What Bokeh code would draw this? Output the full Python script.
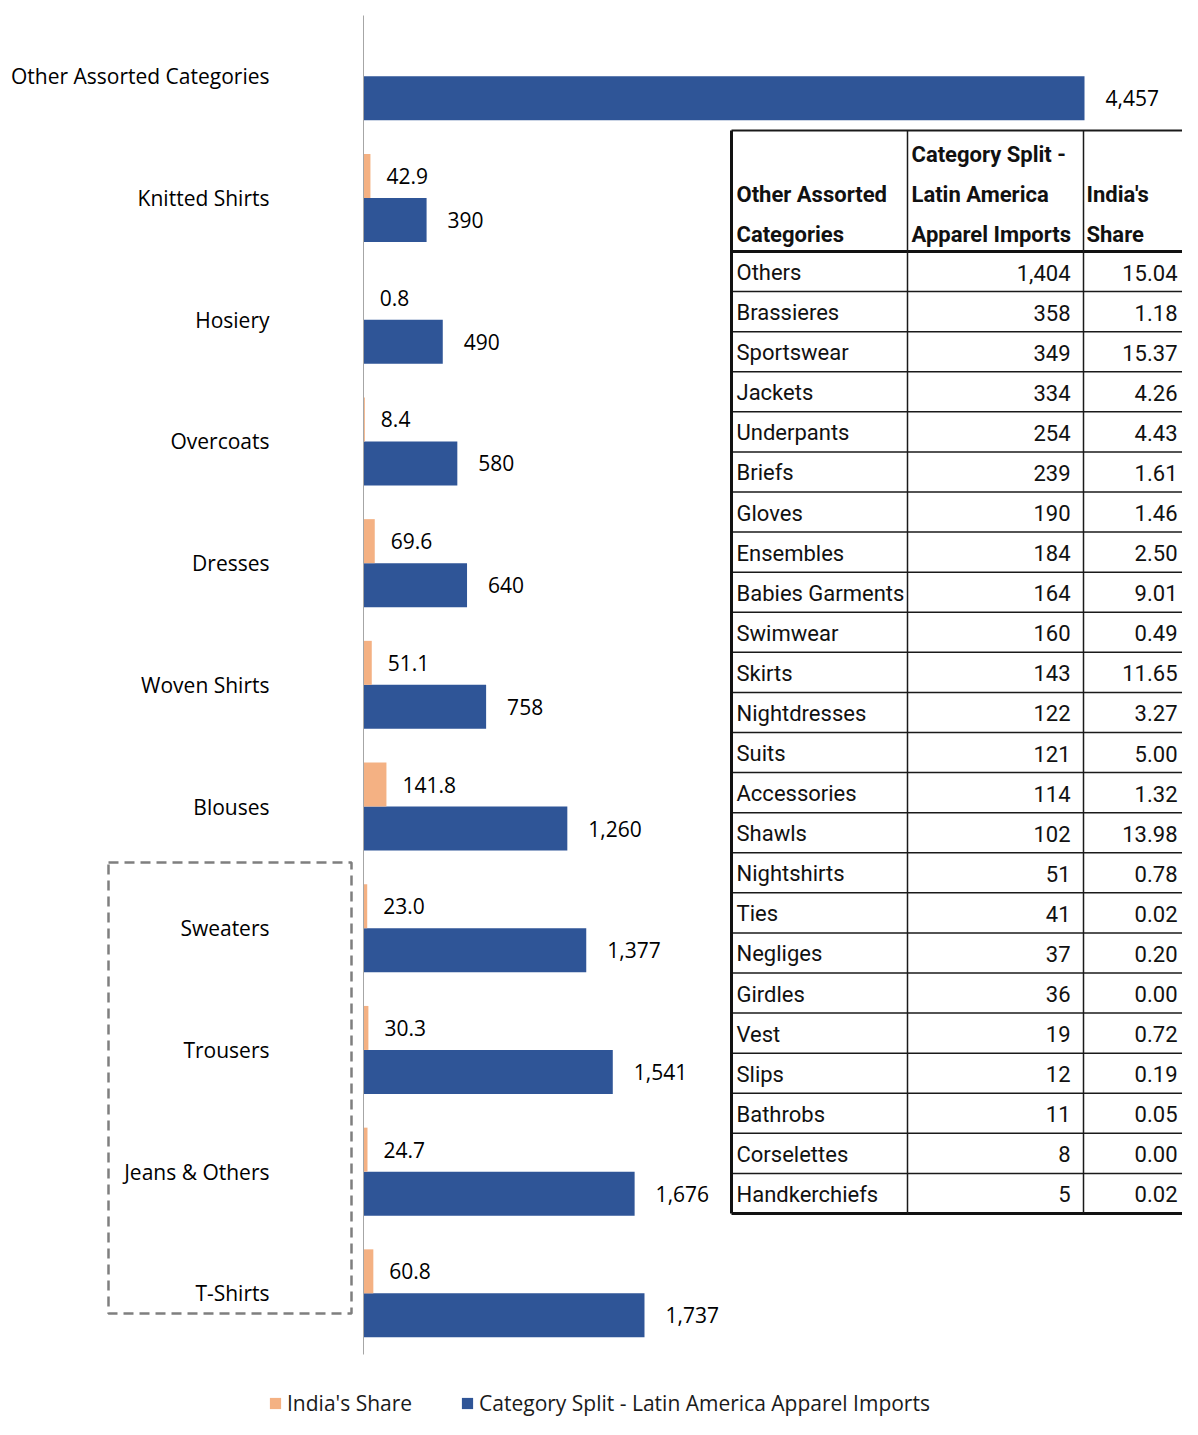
from bokeh.plotting import figure
from bokeh.models import ColumnDataSource, Range1d, Legend, LegendItem
from bokeh.transform import dodge
from bokeh.core.properties import value
from bokeh.embed import file_html
from bokeh.resources import INLINE

# ---------------- data ----------------
categories = ["Other Assorted Categories", "Knitted Shirts", "Hosiery", "Overcoats",
              "Dresses", "Woven Shirts", "Blouses", "Sweaters", "Trousers",
              "Jeans & Others", "T-Shirts"]
imports = [4457, 390, 490, 580, 640, 758, 1260, 1377, 1541, 1676, 1737]
india_share = [None, 42.9, 0.8, 8.4, 69.6, 51.1, 141.8, 23.0, 30.3, 24.7, 60.8]

table_headers = ["Other Assorted\nCategories",
                 "Category Split -\nLatin America\nApparel Imports",
                 "India's\nShare"]
table_cats = ["Others", "Brassieres", "Sportswear", "Jackets", "Underpants", "Briefs",
              "Gloves", "Ensembles", "Babies Garments", "Swimwear", "Skirts",
              "Nightdresses", "Suits", "Accessories", "Shawls", "Nightshirts", "Ties",
              "Negliges", "Girdles", "Vest", "Slips", "Bathrobs", "Corselettes",
              "Handkerchiefs"]
table_imports = [1404, 358, 349, 334, 254, 239, 190, 184, 164, 160, 143, 122, 121,
                 114, 102, 51, 41, 37, 36, 19, 12, 11, 8, 5]
table_share = [15.04, 1.18, 15.37, 4.26, 4.43, 1.61, 1.46, 2.50, 9.01, 0.49, 11.65,
               3.27, 5.00, 1.32, 13.98, 0.78, 0.02, 0.20, 0.00, 0.72, 0.19, 0.05,
               0.00, 0.02]

legend_labels = ["India's Share", "Category Split - Latin America Apparel Imports"]

# ---------------- layout constants (pixels) ----------------
W, H = 1182, 1419
PXU = 721.0 / 4457.0       # pixels per value unit
X0 = 363.0                 # pixel of value zero
ROW = 121.7                # pixels per category band
YC0 = 75.85                # pixel centre of first category
n = len(categories)

def xd(px):
    return (px - X0) / PXU

def yd(py):
    return (n - 1) - (py - YC0) / ROW

BLUE = "#2F5597"
ORANGE = "#F4B183"
FONT = "Open Sans"
TFONT = "Roboto"

p = figure(width=W, height=H, output_backend="svg", toolbar_location=None,
           x_range=Range1d(xd(0), xd(W)),
           y_range=Range1d(yd(H), yd(0)),
           min_border=0, outline_line_color=None)
p.axis.visible = False
p.grid.visible = False
p.background_fill_color = "white"

ys = [n - 1 - i for i in range(n)]
src = ColumnDataSource(dict(
    y=ys, cat=categories, imports=imports,
    imp_lbl=[f"{v:,}" for v in imports]))
idx = [i for i, v in enumerate(india_share) if v is not None]
src2 = ColumnDataSource(dict(
    y=[ys[i] for i in idx], india=[india_share[i] for i in idx],
    ind_lbl=[f"{india_share[i]:.1f}" for i in idx]))

bh = 44.0 / ROW
dof = 22.0 / ROW

blue_r = p.hbar(y=dodge("y", -dof), left=0, right="imports", height=bh,
                source=src, fill_color=BLUE, line_color=None)
orange_r = p.hbar(y=dodge("y", dof), left=0, right="india", height=bh,
                  source=src2, fill_color=ORANGE, line_color=None)

p.text(x="imports", y=dodge("y", -dof), text="imp_lbl", source=src,
       x_offset=21, text_baseline="middle", text_font=value(FONT),
       text_font_size="21px", text_color="#000000")
p.text(x="india", y=dodge("y", dof), text="ind_lbl", source=src2,
       x_offset=16, text_baseline="middle", text_font=value(FONT),
       text_font_size="21px", text_color="#000000")

# category labels
p.text(x=xd(269), y="y", text="cat", source=src, text_align="right",
       text_baseline="middle", text_font=value(FONT), text_font_size="21px",
       text_color="#000000")

# axis line
p.segment(x0=0, y0=yd(15), x1=0, y1=yd(1354), line_color="#A6A6A6", line_width=1)

# dashed highlight box
p.quad(left=xd(108), right=xd(351), top=yd(862), bottom=yd(1313),
       fill_alpha=0, line_color="#7F7F7F", line_width=2.5, line_dash="10 6")

# ---------------- table ----------------
T_TOP, T_HDR, T_BOT = 130.0, 251.0, 1213.0
T_L, C2, C3, T_R = 731.0, 907.0, 1083.0, 1190.0
nr = len(table_cats)
rh = (T_BOT - T_HDR) / nr

p.quad(left=xd(T_L), right=xd(T_R), top=yd(T_TOP), bottom=yd(T_BOT),
       fill_color="white", line_color=None)
hy = [T_HDR + rh * k for k in range(1, nr)]
p.segment(x0=xd(T_L), x1=xd(T_R), y0=[yd(v) for v in hy], y1=[yd(v) for v in hy],
          line_color="#1A1A1A", line_width=1.5)
p.segment(x0=xd(T_L), x1=xd(T_R), y0=yd(T_TOP), y1=yd(T_TOP),
          line_color="#1A1A1A", line_width=2)
p.segment(x0=xd(T_L), x1=xd(T_R), y0=[yd(T_HDR), yd(T_BOT)], y1=[yd(T_HDR), yd(T_BOT)],
          line_color="#111111", line_width=3)
p.segment(x0=xd(T_L), x1=xd(T_L), y0=yd(T_TOP), y1=yd(T_BOT),
          line_color="#111111", line_width=3)
p.segment(x0=[xd(C2), xd(C3)], x1=[xd(C2), xd(C3)], y0=yd(T_TOP), y1=yd(T_BOT),
          line_color="#1A1A1A", line_width=1.5)

row_y = [yd(T_HDR + rh * (k + 0.5) + 1) for k in range(nr)]
tsrc = ColumnDataSource(dict(
    y=row_y, cat=table_cats,
    imp=[f"{v:,}" for v in table_imports],
    sh=[f"{v:.2f}" for v in table_share]))
tstyle = dict(text_baseline="middle", text_font=value(TFONT),
              text_font_size="22px", text_color="#111111")
p.text(x=xd(736), y="y", text="cat", source=tsrc, text_align="left", **tstyle)
p.text(x=xd(1070), y="y", text="imp", source=tsrc, text_align="right", **tstyle)
p.text(x=xd(1177), y="y", text="sh", source=tsrc, text_align="right", **tstyle)

hx = [736, 911, 1086]
for hdr, x in zip(table_headers, hx):
    lines = hdr.split("\n")
    m = len(lines)
    p.text(x=[xd(x)] * m, y=[yd(234 - 40 * (m - 1 - j)) for j in range(m)],
           text=lines, text_align="left", text_baseline="middle",
           text_font=value(TFONT), text_font_size="22px",
           text_font_style="bold", text_color="#111111")

# ---------------- legend ----------------
legend = Legend(items=[LegendItem(label=legend_labels[0], renderers=[orange_r]),
                       LegendItem(label=legend_labels[1], renderers=[blue_r])],
                orientation="horizontal", location=(268, 2),
                glyph_width=14, glyph_height=14, label_standoff=5, spacing=48,
                padding=0, margin=0, border_line_alpha=0, background_fill_alpha=0,
                label_text_font=FONT, label_text_font_size="21px",
                label_text_color="#1A1A1A")
p.add_layout(legend, "center")

open("out.html", "w").write(file_html(p, INLINE))
